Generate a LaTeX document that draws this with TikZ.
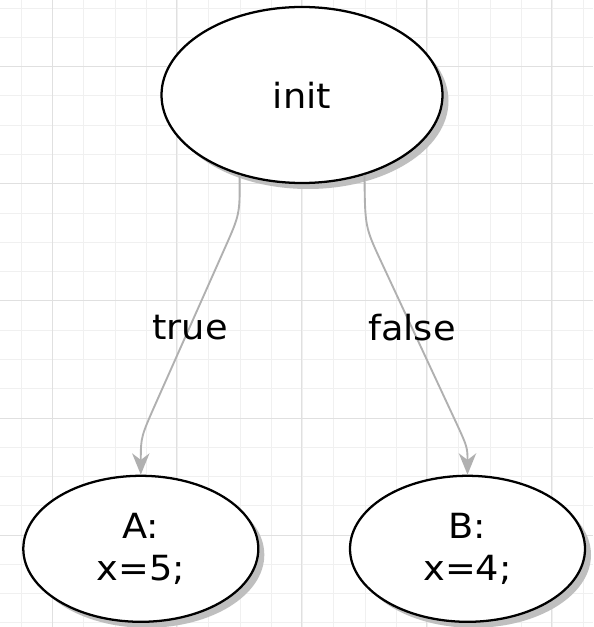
\documentclass[tikz,border=0pt]{standalone}
\usepackage{fontspec}
\usepackage{graphicx}
\setmainfont{DejaVu Sans}
\usetikzlibrary{shapes.geometric,shadows,arrows.meta,calc}
\definecolor{gridminor}{HTML}{F0F0F0}
\definecolor{gridmajor}{HTML}{E0E0E0}
\definecolor{edgegray}{HTML}{B0B0B0}
\newcommand{\wtxt}[1]{\scalebox{1.06}[1]{#1}}
\begin{document}
\begin{tikzpicture}[x=0.75pt,y=-0.75pt,
  state/.style={ellipse,draw=black,line width=1.7pt,fill=white,inner sep=0pt,
    align=center,font=\fontsize{26}{31}\selectfont,
    drop shadow={shadow xshift=4.5pt,shadow yshift=-4.5pt,fill=black!25,opacity=1}},
  edgeline/.style={draw=edgegray,line width=1.4pt,
    -{Stealth[length=16pt,width=13pt,inset=5pt]}},
  elabel/.style={font=\fontsize{26}{31}\selectfont,inner sep=0pt}]
\useasboundingbox (0,0) rectangle (593,627);
\fill[white] (0,0) rectangle (593,627);
% grid
\foreach \i in {0,...,19} {
  \pgfmathsetmacro{\gx}{-9.8+31.25*\i}
  \draw[gridminor,line width=0.75pt] (\gx,0) -- (\gx,627);
}
\foreach \i in {0,...,21} {
  \pgfmathsetmacro{\gy}{8.1+29.28*\i}
  \draw[gridminor,line width=0.75pt] (0,\gy) -- (593,\gy);
}
\foreach \gx in {52.7,176.7,301.7,426.7,551.7}
  \draw[gridmajor,line width=0.75pt] (\gx,0) -- (\gx,627);
\foreach \gy in {66.7,183.8,300.9,418,535.1}
  \draw[gridmajor,line width=0.75pt] (0,\gy) -- (593,\gy);
% nodes
\node[state,minimum width=210.75pt,minimum height=132pt] (init) at (302,95) {\wtxt{init}};
\node[state,minimum width=176.25pt,minimum height=109.5pt] (A) at (140.8,548.8) {\wtxt{A:}\\\wtxt{x=5;}};
\node[state,minimum width=176.25pt,minimum height=109.5pt] (B) at (467.5,548.8) {\wtxt{B:}\\\wtxt{x=4;}};
% waypoints
\coordinate (t1) at (240,214);
\coordinate (t2) at (140.8,437);
\coordinate (tp1) at ($(t1)!0.16!(t2)$);
\coordinate (tp2) at ($(t1)!0.84!(t2)$);
\coordinate (f1) at (365,227);
\coordinate (f2) at (467.5,447);
\coordinate (fp1) at ($(f1)!0.16!(f2)$);
\coordinate (fp2) at ($(f1)!0.86!(f2)$);
% edges
\draw[edgeline] (init.232) .. controls (t1) .. (tp1) -- (tp2) .. controls (t2) .. (A.north);
\draw[edgeline] (init.308) .. controls (f1) .. (fp1) -- (fp2) .. controls (f2) .. (B.north);
% labels
\node[elabel] (ltrue) at (190,328) {\wtxt{true}};
\node[elabel] (lfalse) at (412,328) {\wtxt{false}};
\end{tikzpicture}
\end{document}
